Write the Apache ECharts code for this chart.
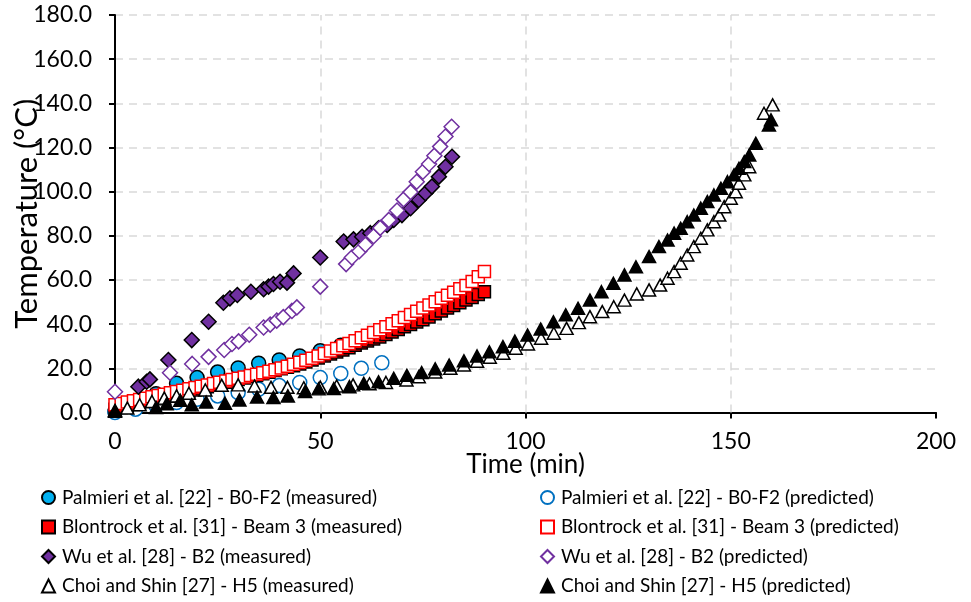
<!DOCTYPE html>
<html lang="en">
<head>
    <meta charset="UTF-8">
    <title>Temperature vs time</title>
    <script src="https://cdn.jsdelivr.net/npm/echarts@6/dist/echarts.min.js"></script>
    <style>
        html, body, #chart {
            width: 971px;
            height: 602px;
            padding: 0;
            margin: 0;
            background: #fff;
        }
    </style>
</head>
<body>
<div id="chart"></div>
<script>
    // [time (min), temperature (°C)]
    var palmieriMeasured = [[0, 0.5], [5, 4], [10, 8.5], [15, 13.2], [20, 15.8], [25, 18.3], [30, 20.2], [35, 22.3],
        [40, 23.8], [45, 25.6], [50, 28], [55, 30.5], [60, 33]];
    var palmieriPredicted = [[0, 0], [5, 1.5], [10, 3], [15, 4.5], [20, 6], [25, 7.5], [30, 9], [35, 10.5],
        [40, 12.2], [45, 13.6], [50, 15.8], [55, 17.7], [60, 20], [65, 22.5]];
    var blontrockMeasured = [[0, 1.5], [1.5, 2.3], [3, 3], [4.5, 3.6], [6, 4.3], [7.5, 5], [9, 5.6], [10.5, 6.2],
        [12, 6.8], [13.5, 7.4], [15, 8], [16.5, 8.7], [18, 9.4], [19.5, 10.2], [21, 11], [22.5, 11.7], [24, 12.4],
        [25.5, 13], [27, 13.7], [28.5, 14.3], [30, 15], [31.5, 15.6], [33, 16.2], [34.5, 16.8], [36, 17.5],
        [37.5, 18.2], [39, 19], [40.5, 19.8], [42, 20.5], [43.5, 21.2], [45, 22], [46.5, 22.9], [48, 23.8],
        [49.5, 24.7], [51, 25.6], [52.5, 26.5], [54, 27.4], [55.5, 28.3], [57, 29.3], [58.5, 30.4], [60, 31.5],
        [61.5, 32.4], [63, 33.3], [64.5, 34.2], [66, 35.3], [67.5, 36.4], [69, 37.6], [70.5, 38.8], [72, 39.9],
        [73.5, 41], [75, 42], [76.5, 43.3], [78, 44.7], [79.5, 46], [81, 47.3], [82.5, 48.5], [84, 49.7],
        [85.5, 50.9], [87, 52.1], [88.5, 53.4], [90, 54.7]];
    var blontrockPredicted = [[0, 3.5], [1.5, 4.1], [3, 4.7], [4.5, 5.3], [6, 5.9], [7.5, 6.5], [9, 7.1], [10.5, 7.7],
        [12, 8.3], [13.5, 8.9], [15, 9.5], [16.5, 10.1], [18, 10.7], [19.5, 11.3], [21, 11.9], [22.5, 12.5],
        [24, 13.1], [25.5, 13.7], [27, 14.3], [28.5, 14.9], [30, 15.5], [31.5, 16.1], [33, 16.7], [34.5, 17.3],
        [36, 18], [37.5, 18.7], [39, 19.4], [40.5, 20.2], [42, 21], [43.5, 21.9], [45, 22.8], [46.5, 23.7],
        [48, 24.6], [49.5, 25.6], [51, 26.7], [52.5, 27.8], [54, 29], [55.5, 30.2], [57, 31.3], [58.5, 32.5],
        [60, 33.8], [61.5, 35], [63, 36.2], [64.5, 37.5], [66, 38.8], [67.5, 40.2], [69, 41.6], [70.5, 43],
        [72, 44.4], [73.5, 45.8], [75, 47.3], [76.5, 48.7], [78, 50.2], [79.5, 51.7], [81, 53.1], [82.5, 54.5],
        [84, 56], [85.5, 57.5], [87, 59.3], [88.5, 61.5], [90, 63.8]];
    var wuMeasured = [[5.7, 11.7], [7.7, 13.9], [8.5, 15], [13, 23.8], [18.7, 32.8], [22.8, 41.1], [26.4, 49.7],
        [28, 51.7], [29.8, 53.2], [33.1, 54.7], [36.2, 55.8], [37.4, 57], [38.6, 58.2], [40.2, 59.2], [41.9, 58.8],
        [43.5, 63], [50, 70.2], [55.7, 77.4], [58.1, 78.4], [60.2, 79.6], [62.2, 81.2], [64.2, 83.4], [66.3, 84.9],
        [67.9, 87.2], [69.9, 89.4], [72, 92.5], [74, 96.2], [75.6, 99.3], [77.2, 102.3], [78.9, 106.8],
        [80.5, 111.3], [82.1, 115.8]];
    var wuPredicted = [[0, 9.4], [13.4, 18], [18.8, 22], [22.8, 25.2], [26.6, 28.3], [28.5, 31], [30.1, 32.2],
        [32.7, 35.2], [36.2, 38.5], [37.8, 39.8], [39.4, 41.6], [41, 43.2], [43.1, 46], [44.3, 47.6], [50, 57],
        [56.3, 67.2], [57.7, 70.2], [59.5, 73], [61, 76], [63, 79.8], [64.6, 83.6], [66.7, 87.2], [68.7, 91.5],
        [70.3, 96.5], [72, 99.8], [73.5, 104.5], [75, 109], [76.5, 112.5], [77.8, 116.3], [79.2, 120.4],
        [80.5, 125], [82, 129.4]];
    var choiMeasured = [[0, 0.5], [3, 2], [6, 3.5], [9, 5], [12, 6.5], [15, 7.5], [18, 8.7], [22, 10.2], [26, 12.3],
        [30, 12.5], [34, 12], [38, 11.4], [42, 11.4], [46, 11.2], [50, 11.5], [54, 12], [58, 12.5], [62, 13],
        [66, 13.6], [71, 14.7], [74, 16.2], [78, 18.3], [81.7, 20], [85, 21.5], [88.2, 23.2], [91.3, 25],
        [94.6, 26.8], [97.6, 29.1], [100.6, 31], [103.8, 33.6], [106.9, 35.9], [110, 38.1], [113, 40.7],
        [115.7, 43.4], [118.7, 45.7], [121.5, 47.9], [124.1, 50.9], [127.1, 53.7], [130.1, 55.5], [132.8, 57.7],
        [134.6, 60.8], [136.2, 63.8], [137.8, 67.6], [139.4, 71.3], [141, 75.1], [142.7, 78.9], [144.3, 82.7],
        [145.9, 86.4], [147.2, 89.4], [148.4, 93.2], [150, 97], [151.2, 100], [152, 103.8], [153.3, 107.6],
        [154.5, 111.3], [158.1, 135.5], [160.2, 139.3]];
    var choiPredicted = [[0, 1], [10, 2.3], [12.6, 4], [15.9, 5.5], [18.7, 3.5], [22.2, 4.7], [26.8, 4.2],
        [30.3, 5.7], [34.6, 7], [38.6, 6.8], [42.1, 7.5], [46.3, 9.5], [49.6, 10.7], [53.3, 10.8], [57.1, 11.7],
        [60.6, 13.2], [64.2, 13.9], [67.9, 15.5], [71.1, 16.8], [74.7, 18.1], [78, 19.8], [81.4, 21.5], [85, 23.4],
        [88.2, 25.6], [91.2, 27.5], [94.5, 29.8], [97.4, 32.3], [100.5, 35.1], [103.7, 37.8], [106.8, 41.1],
        [109.8, 44.2], [112.8, 47.2], [115.7, 50.9], [118.5, 54.7], [121.4, 58.5], [124.1, 62.3], [126.9, 66],
        [130.1, 70.6], [132.5, 75.1], [134.6, 78.1], [136.2, 81.2], [137.8, 83.4], [139.4, 86.4], [141, 89.4],
        [142.7, 92.5], [144.3, 95.5], [145.9, 98.5], [147.6, 101.5], [149.2, 104.5], [150.8, 107.6], [152, 110.6],
        [153.3, 113.6], [154.5, 116.6], [156.1, 121.9], [159.3, 130.2], [159.8, 132.5]];

    var seriesNames = [
        "Palmieri et al. [22] - B0-F2 (measured)", "Palmieri et al. [22] - B0-F2 (predicted)",
        "Blontrock et al. [31] - Beam 3 (measured)", "Blontrock et al. [31] - Beam 3 (predicted)",
        "Wu et al. [28] - B2 (measured)", "Wu et al. [28] - B2 (predicted)",
        "Choi and Shin [27] - H5 (measured)", "Choi and Shin [27] - H5 (predicted)"
    ];
    // vertical gridlines (none at the 200 min edge)
    var xGridValues = [50, 100, 150];

    var FONT = "Lato, sans-serif";
    var GRID_LINE = {color: "#d9d9d9", width: 1.5, type: [8, 6]};
    var myChart = echarts.init(document.getElementById("chart"), null, {renderer: "canvas"});

    function scatter(name, data, symbol, size, fill, stroke) {
        return {
            name: name,
            type: "scatter",
            data: data,
            symbol: symbol,
            symbolSize: size,
            z: 3,
            itemStyle: {color: fill, borderColor: stroke, borderWidth: 1.5, opacity: 1},
            emphasis: {disabled: true}
        };
    }

    var series = [
        scatter(seriesNames[0], palmieriMeasured, "circle", 14, "#00b0f0", "#000"),
        scatter(seriesNames[1], palmieriPredicted, "circle", 14, "#fff", "#0070c0"),
        scatter(seriesNames[2], blontrockMeasured, "rect", 12, "#ff0000", "#000"),
        scatter(seriesNames[3], blontrockPredicted, "rect", 12, "#fff", "#ff0000"),
        scatter(seriesNames[4], wuMeasured, "diamond", 15, "#7030a0", "#000"),
        scatter(seriesNames[5], wuPredicted, "diamond", 15, "#fff", "#7030a0"),
        scatter(seriesNames[6], choiMeasured, "triangle", [13, 12], "#fff", "#000"),
        scatter(seriesNames[7], choiPredicted, "triangle", [13, 12], "#000", "#000")
    ];
    series[0].markLine = {
        silent: true, symbol: "none", z: 1, animation: false,
        label: {show: false},
        lineStyle: GRID_LINE,
        data: xGridValues.map(function (v) { return {xAxis: v}; })
    };

    var legendText = {fontFamily: FONT, fontSize: 19, color: "#000", padding: [0, 0, 0, 2]};

    myChart.setOption({
        animation: false,
        grid: {left: 115, right: 35, top: 15, bottom: 189.5, containLabel: false, outerBoundsMode: "none"},
        legend: [{
            data: [seriesNames[0], seriesNames[2], seriesNames[4], seriesNames[6]],
            orient: "vertical", left: 41, top: 488, itemGap: 10.5, padding: 0, height: 120,
            itemWidth: 13, itemHeight: 13, textStyle: legendText
        }, {
            data: [seriesNames[1], seriesNames[3], seriesNames[5], seriesNames[7]],
            orient: "vertical", left: 540, top: 488, itemGap: 10.5, padding: 0, height: 120,
            itemWidth: 13, itemHeight: 13, textStyle: legendText
        }],
        xAxis: {
            type: "value", min: 0, max: 200, interval: 50,
            name: "Time (min)", nameLocation: "middle", nameGap: 39, nameMoveOverlap: false,
            nameTextStyle: {fontFamily: FONT, fontSize: 26, color: "#000"},
            axisLine: {show: true, lineStyle: {color: "#000", width: 2}},
            axisTick: {show: true, length: 6, lineStyle: {color: "#000", width: 2}},
            axisLabel: {fontFamily: FONT, fontSize: 23, color: "#000", margin: 18},
            splitLine: {show: false}
        },
        yAxis: {
            type: "value", min: 0, max: 180, interval: 20,
            name: "Temperature (°C)", nameLocation: "middle", nameGap: 73, nameMoveOverlap: false,
            nameTextStyle: {fontFamily: FONT, fontSize: 31, color: "#000"},
            axisLine: {show: true, lineStyle: {color: "#000", width: 2}},
            axisTick: {show: true, length: 6, lineStyle: {color: "#000", width: 2}},
            axisLabel: {fontFamily: FONT, fontSize: 23, color: "#000", margin: 23,
                formatter: function (v) { return v.toFixed(1); }},
            splitLine: {show: true, lineStyle: GRID_LINE}
        },
        series: series
    });
</script>
</body>
</html>
